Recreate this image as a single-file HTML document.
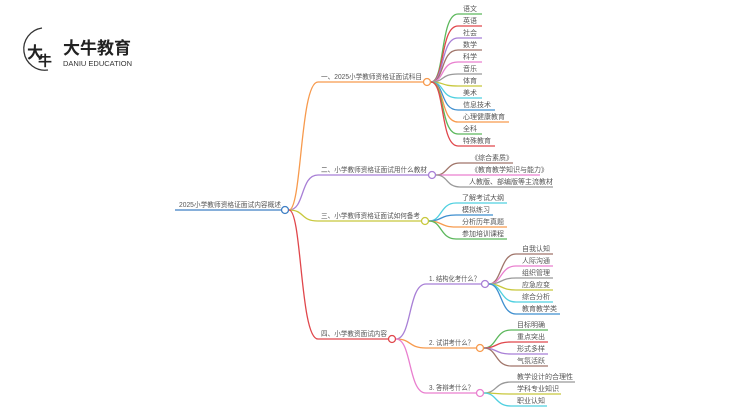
<!DOCTYPE html>
<html><head><meta charset="utf-8"><style>
body{margin:0;background:#fff;width:750px;height:410px;overflow:hidden}
text{font-family:"Liberation Sans","Noto Sans CJK SC",sans-serif;font-size:7px;fill:#555}
path{fill:none;stroke-width:1.3}
</style></head><body>
<svg width="750" height="410" viewBox="0 0 750 410" xmlns="http://www.w3.org/2000/svg">
<!-- logo -->
<g>
<path d="M28,46 A14,14 0 0 1 56,46 Z" fill="#d9262c" stroke="none"/>
<path d="M42,28 A20,20 0 1 0 48,70" stroke="#333" stroke-width="1.5"/>
<text x="27" y="58" style="font-size:16px;fill:#222;font-weight:bold">大</text>
<text x="38" y="66" style="font-size:14px;fill:#222;font-weight:bold">牛</text>
<text x="63" y="54" style="font-size:17px;fill:#222;font-weight:bold">大牛教育</text>
<text x="63" y="66" style="font-size:7.5px;fill:#333">DANIU EDUCATION</text>
</g>

<!-- root -->
<path d="M175,210 H281" stroke="#3f7fc4"/>
<text x="179" y="207" textLength="102" lengthAdjust="spacingAndGlyphs">2025小学教师资格证面试内容概述</text>
<circle cx="285" cy="210" r="3.5" fill="#fff" stroke="#3f7fc4" stroke-width="1.3"/>

<!-- branch 1 -->
<path d="M289,210 C302,210 300,82 318,82 H423" stroke="#f79a4d"/>
<text x="321" y="79" textLength="101" lengthAdjust="spacingAndGlyphs">一、2025小学教师资格证面试科目</text>
<circle cx="427" cy="82" r="3.5" fill="#fff" stroke="#f79a4d" stroke-width="1.3"/>
<g>
<path d="M431,82 C445,82 440,14 458,14 H482" stroke="#5cb85c"/><text x="463" y="11">语文</text>
<path d="M431,82 C445,82 440,26 458,26 H482" stroke="#e0474c"/><text x="463" y="23">英语</text>
<path d="M431,82 C445,82 440,38 458,38 H482" stroke="#a87fd6"/><text x="463" y="35">社会</text>
<path d="M431,82 C445,82 440,50 458,50 H482" stroke="#a0756a"/><text x="463" y="47">数学</text>
<path d="M431,82 C445,82 440,62 458,62 H482" stroke="#e97fcf"/><text x="463" y="59">科学</text>
<path d="M431,82 C445,82 440,74 458,74 H482" stroke="#999"/><text x="463" y="71">音乐</text>
<path d="M431,82 C445,82 440,86 458,86 H482" stroke="#c8c83c"/><text x="463" y="83">体育</text>
<path d="M431,82 C445,82 440,98 458,98 H482" stroke="#4fd0e0"/><text x="463" y="95">美术</text>
<path d="M431,82 C445,82 440,110 458,110 H495" stroke="#3f8fcf"/><text x="463" y="107">信息技术</text>
<path d="M431,82 C445,82 440,122 458,122 H509" stroke="#f79a4d"/><text x="463" y="119">心理健康教育</text>
<path d="M431,82 C445,82 440,134 458,134 H482" stroke="#5cb85c"/><text x="463" y="131">全科</text>
<path d="M431,82 C445,82 440,146 458,146 H495" stroke="#e0474c"/><text x="463" y="143">特殊教育</text>
</g>

<!-- branch 2 -->
<path d="M289,210 C305,210 300,175 318,175 H428" stroke="#a87fd6"/>
<text x="321" y="172" textLength="106" lengthAdjust="spacingAndGlyphs">二、小学教师资格证面试用什么教材</text>
<circle cx="432" cy="175" r="3.5" fill="#fff" stroke="#a87fd6" stroke-width="1.3"/>
<path d="M436,175 C448,175 446,163 460,163 H513" stroke="#a0756a"/><text x="471" y="160">《综合素质》</text>
<path d="M436,175 C448,175 446,175 460,175 H540" stroke="#e97fcf"/><text x="471" y="172">《教育教学知识与能力》</text>
<path d="M436,175 C448,175 446,187 460,187 H553" stroke="#999"/><text x="469" y="184">人教版、部编版等主流教材</text>

<!-- branch 3 -->
<path d="M289,210 C305,210 300,221 318,221 H421" stroke="#c8c83c"/>
<text x="321" y="218" textLength="99" lengthAdjust="spacingAndGlyphs">三、小学教师资格证面试如何备考</text>
<circle cx="425" cy="221" r="3.5" fill="#fff" stroke="#c8c83c" stroke-width="1.3"/>
<path d="M429,221 C442,221 440,203 456,203 H507" stroke="#4fd0e0"/><text x="462" y="200">了解考试大纲</text>
<path d="M429,221 C442,221 440,215 456,215 H493" stroke="#3f8fcf"/><text x="462" y="212">模拟练习</text>
<path d="M429,221 C442,221 440,227 456,227 H507" stroke="#f79a4d"/><text x="462" y="224">分析历年真题</text>
<path d="M429,221 C442,221 440,239 456,239 H507" stroke="#5cb85c"/><text x="462" y="236">参加培训课程</text>

<!-- branch 4 -->
<path d="M289,210 C302,210 300,339 318,339 H388" stroke="#e0474c"/>
<text x="321" y="336" textLength="66" lengthAdjust="spacingAndGlyphs">四、小学教资面试内容</text>
<circle cx="392" cy="339" r="3.5" fill="#fff" stroke="#e0474c" stroke-width="1.3"/>

<path d="M396,339 C412,339 408,284 426,284 H481" stroke="#a87fd6"/>
<text x="429" y="281" textLength="51" lengthAdjust="spacingAndGlyphs">1. 结构化考什么？</text>
<circle cx="485" cy="284" r="3.5" fill="#fff" stroke="#a87fd6" stroke-width="1.3"/>
<path d="M489,284 C502,284 500,254 516,254 H553" stroke="#a0756a"/><text x="522" y="251">自我认知</text>
<path d="M489,284 C502,284 500,266 516,266 H553" stroke="#e97fcf"/><text x="522" y="263">人际沟通</text>
<path d="M489,284 C502,284 500,278 516,278 H553" stroke="#999"/><text x="522" y="275">组织管理</text>
<path d="M489,284 C502,284 500,290 516,290 H553" stroke="#c8c83c"/><text x="522" y="287">应急应变</text>
<path d="M489,284 C502,284 500,302 516,302 H553" stroke="#4fd0e0"/><text x="522" y="299">综合分析</text>
<path d="M489,284 C502,284 500,314 516,314 H560" stroke="#3f8fcf"/><text x="522" y="311">教育教学类</text>

<path d="M396,339 C412,339 408,348 426,348 H476" stroke="#f79a4d"/>
<text x="429" y="345" textLength="45" lengthAdjust="spacingAndGlyphs">2. 试讲考什么？</text>
<circle cx="480" cy="348" r="3.5" fill="#fff" stroke="#f79a4d" stroke-width="1.3"/>
<path d="M484,348 C497,348 495,330 511,330 H548" stroke="#5cb85c"/><text x="517" y="327">目标明确</text>
<path d="M484,348 C497,348 495,342 511,342 H548" stroke="#e0474c"/><text x="517" y="339">重点突出</text>
<path d="M484,348 C497,348 495,354 511,354 H548" stroke="#a87fd6"/><text x="517" y="351">形式多样</text>
<path d="M484,348 C497,348 495,366 511,366 H548" stroke="#a0756a"/><text x="517" y="363">气氛活跃</text>

<path d="M396,339 C412,339 408,393 426,393 H476" stroke="#e97fcf"/>
<text x="429" y="390" textLength="45" lengthAdjust="spacingAndGlyphs">3. 答辩考什么？</text>
<circle cx="480" cy="393" r="3.5" fill="#fff" stroke="#e97fcf" stroke-width="1.3"/>
<path d="M484,393 C497,393 495,382 511,382 H575" stroke="#999"/><text x="517" y="379">教学设计的合理性</text>
<path d="M484,393 C497,393 495,394 511,394 H561" stroke="#c8c83c"/><text x="517" y="391">学科专业知识</text>
<path d="M484,393 C497,393 495,406 511,406 H547" stroke="#4fd0e0"/><text x="517" y="403">职业认知</text>
</svg>
</body></html>
